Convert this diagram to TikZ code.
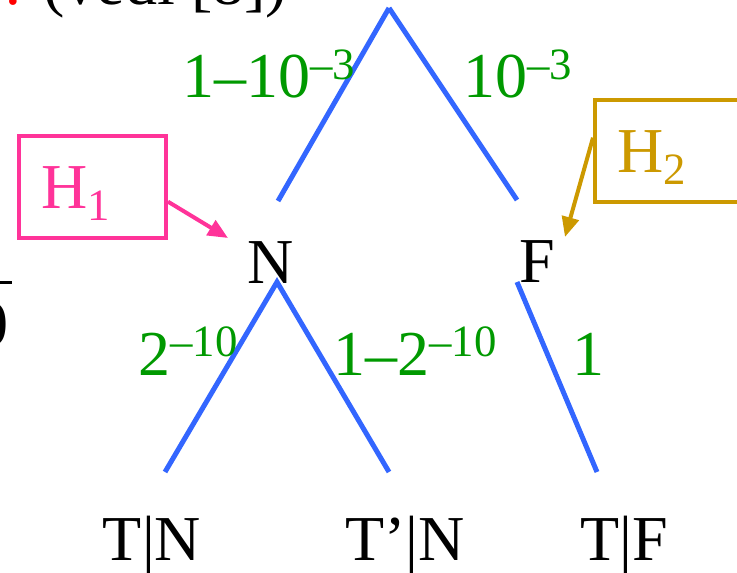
\documentclass[tikz,border=0pt]{standalone}
\usepackage{fontspec}
\setmainfont{Liberation Serif}
\usetikzlibrary{arrows.meta}
\definecolor{branchblue}{HTML}{3366FF}
\definecolor{probgreen}{HTML}{009900}
\definecolor{hypink}{HTML}{FF3399}
\definecolor{hypgold}{HTML}{CC9900}
\tikzset{
    branch/.style={draw=branchblue, line width=2.5pt},
    prob/.style={text=probgreen, anchor=base west, inner sep=0pt},
    outcome/.style={anchor=base, inner sep=0pt},
    hypbox/.style={draw, line width=2pt, minimum width=73.5pt, minimum height=51pt,
        text width=51.5pt, align=left, inner xsep=11pt, inner ysep=0pt,
        text height=21pt, text depth=0pt},
    hyparrow/.style={line width=2pt, -{Triangle[length=10pt, width=8.5pt]}}
}
\begin{document}
\begin{tikzpicture}[x=0.5pt, y=-0.5pt, font=\fontsize{32}{38}\selectfont]
    \path[use as bounding box, clip] (0,0) rectangle (737,572);
    \node[anchor=base west, inner sep=0pt] (ref) at (4,5) {\textcolor{red}{:} (vedi [8])};
    \draw[line width=1.5pt] (-10,282) -- (12,282);
    \node[anchor=base east, inner sep=0pt] (den) at (9,345) {0};
    % tree
    \coordinate (root) at (389,8);
    \node[outcome] (N) at (271,283) {N};
    \node[outcome] (F) at (537,282) {F};
    \coordinate (N-top) at (278,201);
    \coordinate (F-top) at (517,200);
    \coordinate (N-bot) at (277,282);
    \coordinate (F-bot) at (517,282);
    \foreach \name/\x/\txt/\tip in {TN/152/T|N/165, TpN/405/T’|N/389, TF/624/T|F/597} {
        \node[outcome] (\name) at (\x,560) {\txt};
        \coordinate (\name-tip) at (\tip,472);
    }
    \draw[branch] (root) -- (N-top);
    \draw[branch] (root) -- (F-top);
    \draw[branch] (TN-tip) -- (N-bot) -- (TpN-tip);
    \draw[branch] (F-bot) -- (TF-tip);
    \foreach \name/\x/\y/\txt in {pN/182/98/1–10\textsuperscript{–3}, pF/463/98/10\textsuperscript{–3},
        pTN/138/375/2\textsuperscript{–10}, pTpN/333/375/1–2\textsuperscript{–10}, pTF/572/375/1} {
        \node[prob] (\name) at (\x,\y) {\txt};
    }
    % hypotheses
    \node[hypbox, draw=hypink, text=hypink] (h1) at (92.5,187) {H\textsubscript{1}};
    \node[hypbox, draw=hypgold, text=hypgold] (h2) at (668.5,151) {H\textsubscript{2}};
    \coordinate (h1-tip) at (228,238);
    \coordinate (h2-tip) at (565,237);
    \draw[hyparrow, hypink] (h1.-11.5) -- (h1-tip);
    \draw[hyparrow, hypgold] (h2.170) -- (h2-tip);
\end{tikzpicture}
\end{document}
